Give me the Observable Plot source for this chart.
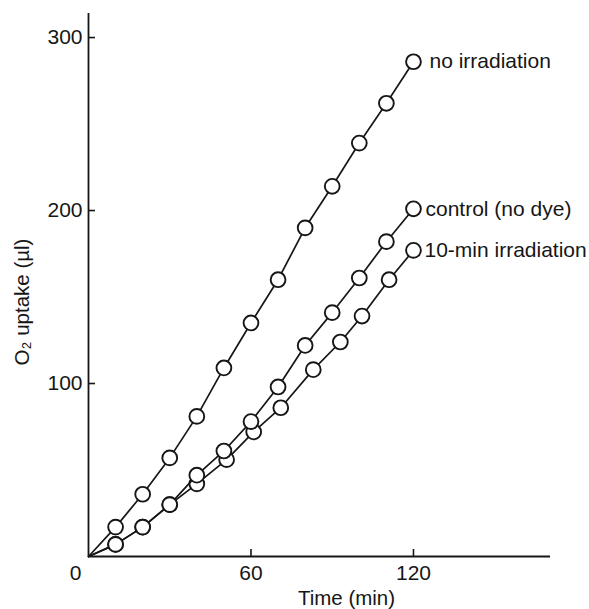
<!DOCTYPE html>
<html>
<head>
<meta charset="utf-8">
<script src="https://cdn.jsdelivr.net/npm/d3@7"></script>
<script src="https://cdn.jsdelivr.net/npm/@observablehq/plot@0.6"></script>
<style>
  html, body { margin: 0; padding: 0; background: #fff; }
</style>
</head>
<body>
<div id="chart"></div>
<script>
// ---- data ----
const seriesNames = ["10-min irradiation", "control (no dye)", "no irradiation"];
const timesTenMin = [10, 20, 30, 40, 51, 61, 71, 83, 93, 101, 111, 120];
const valuesTenMin = [7, 17, 30, 42, 56, 72, 86, 108, 124, 139, 160, 177];
const timesControl = [10, 20, 30, 40, 50, 60, 70, 80, 90, 100, 110, 120];
const valuesControl = [7, 17, 30, 47, 61, 78, 98, 122, 141, 161, 182, 201];
const timesNoIrr = [10, 20, 30, 40, 50, 60, 70, 80, 90, 100, 110, 120];
const valuesNoIrr = [17, 36, 57, 81, 109, 135, 160, 190, 214, 239, 262, 286];
const origin = {t: 0, v: 0};
const xTicks = [60, 120];
const yTicks = [100, 200, 300];
const originTickLabel = "0";
const xLabel = "Time (min)";
const yLabel = "O₂ uptake (µl)";

const seriesTimes = [timesTenMin, timesControl, timesNoIrr];
const seriesValues = [valuesTenMin, valuesControl, valuesNoIrr];

const series = seriesNames.map((name, i) => ({
  name,
  points: seriesTimes[i].map((t, j) => ({t, v: seriesValues[i][j], name}))
}));

const W = 589, H = 609;
const mL = 88, mR = 39, mT = 13, mB = 53;
const innerW = W - mL - mR, innerH = H - mT - mB;
const ink = "#161616";
const fs = 21;
const labelDx = {"no irradiation": 16, "control (no dye)": 12, "10-min irradiation": 11};

const marks = [
  Plot.ruleX([0], {stroke: ink, strokeWidth: 1.8}),
  Plot.ruleY([0], {stroke: ink, strokeWidth: 1.8}),
  Plot.tickX(xTicks, {x: d => d, insetTop: innerH - 7, stroke: ink, strokeWidth: 1.6}),
  Plot.tickY(yTicks, {y: d => d, insetRight: innerW - 7, stroke: ink, strokeWidth: 1.6}),
  Plot.axisX(xTicks, {tickSize: 0, tickPadding: 9, fontSize: fs, fill: ink, label: null}),
  Plot.axisY(yTicks, {tickSize: 0, tickPadding: 6, fontSize: fs, fill: ink, label: null}),
  Plot.text([{t: 0, v: 0, s: originTickLabel}], {x: "t", y: "v", text: "s", dx: -13, dy: 17, fontSize: fs, fill: ink}),
  Plot.text([xLabel], {text: d => d, frameAnchor: "bottom", textAnchor: "middle", lineAnchor: "middle", dx: 27, dy: 42, fontSize: 20.5, fill: ink}),
  Plot.text([yLabel], {text: d => d, frameAnchor: "left", textAnchor: "middle", rotate: -90, lineAnchor: "middle", dx: -66, dy: 17, fontSize: 20.5, fill: ink})
];

for (const s of series) {
  marks.push(Plot.line([origin, ...s.points], {x: "t", y: "v", stroke: ink, strokeWidth: 1.7}));
  marks.push(Plot.dot(s.points, {x: "t", y: "v", r: 7.4, fill: "white", stroke: ink, strokeWidth: 1.9}));
  const last = s.points[s.points.length - 1];
  marks.push(Plot.text([last], {x: "t", y: "v", text: "name", textAnchor: "start", lineAnchor: "middle", dx: labelDx[s.name], fontSize: fs, fill: ink}));
}

const chart = Plot.plot({
  width: W,
  height: H,
  marginLeft: mL,
  marginRight: mR,
  marginTop: mT,
  marginBottom: mB,
  x: {domain: [0, 170.6], axis: null},
  y: {domain: [0, 313.9], axis: null},
  style: {fontFamily: "'Liberation Sans', Arial, Helvetica, sans-serif", fontSize: "21px", background: "white", color: ink, overflow: "visible"},
  marks
});
document.getElementById("chart").appendChild(chart);
</script>
</body>
</html>
